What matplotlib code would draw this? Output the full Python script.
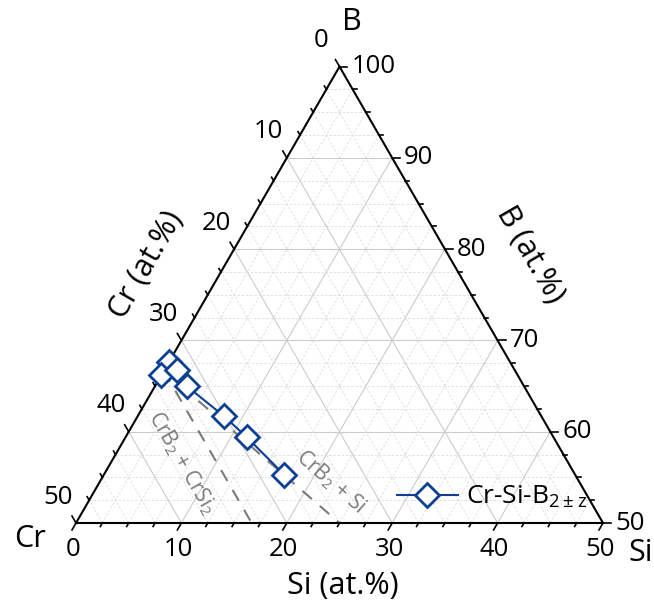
import numpy as np
import matplotlib.pyplot as plt

plt.rcParams["font.family"] = ["Open Sans", "DejaVu Sans"]
plt.rcParams["mathtext.default"] = "regular"

# measured compositions (at.%)
si_pct = [0.0, 0.0, 1.2, 3.0, 8.2, 11.5, 17.1]
b_pct = [67.6, 66.2, 66.8, 65.0, 61.7, 59.4, 55.3]
series_label = "Cr-Si-B$_{2\\pm z}$"

# tie lines starting at CrB2 (Si, B)
crb2 = (0.0, 200 / 3)
tie_crsi2_end = (50 / 3, 50.0)
tie_si_end = (25.0, 50.0)
tie_labels = ["CrB$_2$ + CrSi$_2$", "CrB$_2$ + Si"]

tick_values = np.arange(0, 50.01, 2.5)
major_values = [0, 10, 20, 30, 40, 50]

SQ3 = np.sqrt(3) / 2
PX = 10.54  # pixels per at.% along a triangle edge
W, H = 654, 605
X0, Y0 = 76, 523  # pixel position of the Cr corner

BLUE = "#0d3f94"
GREY = "#7a7a7a"


def to_xy(si, b):
    si = np.asarray(si, dtype=float)
    b = np.asarray(b, dtype=float)
    return si + 0.5 * (b - 50), (b - 50) * SQ3


def px(d):
    return d / PX


fig = plt.figure(figsize=(W / 100, H / 100), dpi=100)
ax = fig.add_axes([0, 0, 1, 1])
ax.set_xlim(-X0 / PX, (W - X0) / PX)
ax.set_ylim(-(H - Y0) / PX, Y0 / PX)
ax.axis("off")

# grid: constant B, Si and Cr lines
for v in tick_values:
    major = v % 10 == 0
    kw = dict(color="#cccccc", lw=0.8, ls="-") if major else dict(color="#dcdcdc", lw=0.6, ls=(0, (3, 2)))
    if 0 < v < 50:
        # constant B = 50 + v
        xa, ya = to_xy([0, 50 - v], [50 + v, 50 + v])
        ax.plot(xa, ya, zorder=1, **kw)
        # constant Si = v
        xa, ya = to_xy([v, v], [50, 100 - v])
        ax.plot(xa, ya, zorder=1, **kw)
        # constant Cr = v
        xa, ya = to_xy([50 - v, 0], [50, 100 - v])
        ax.plot(xa, ya, zorder=1, **kw)

# triangle outline
xa, ya = to_xy([0, 50, 0, 0], [50, 50, 100, 50])
ax.plot(xa, ya, color="black", lw=1.5, zorder=3, solid_joinstyle="miter")

# ticks and tick labels
tick_fs = 18.5
for v in tick_values:
    major = v in major_values
    length = px(8 if major else 4)
    # bottom: Si
    x, y = to_xy(v, 50)
    ax.plot([x, x - 0.5 * length], [y, y - SQ3 * length], color="black", lw=1.2, zorder=3)
    if major:
        ax.text(x - px(3), y - px(27), f"{v:g}", ha="center", va="center", fontsize=tick_fs)
    # left: Cr
    x, y = to_xy(0, 100 - v)
    ax.plot([x, x - 0.5 * length], [y, y + SQ3 * length], color="black", lw=1.2, zorder=3)
    if major:
        ax.text(x - px(18), y + px(26), f"{v:g}", ha="center", va="center", fontsize=tick_fs)
    # right: B
    x, y = to_xy(50 - v, 50 + v)
    ax.plot([x, x + length], [y, y], color="black", lw=1.2, zorder=3)
    if major:
        ax.text(x + px(12), y, f"{50 + v:g}", ha="left", va="center", fontsize=tick_fs)

# tie lines
for end in (tie_crsi2_end, tie_si_end):
    xa, ya = to_xy([crb2[0], end[0]], [crb2[1], end[1]])
    ax.plot(xa, ya, color=GREY, lw=1.5, ls=(0, (6, 5)), zorder=2)


def fig_text(x, y, s, **kw):
    fig.text(x / W, 1 - y / H, s, ha="center", va="center", **kw)


fig_text(182, 463, tie_labels[0], rotation=-60, color=GREY, fontsize=15, rotation_mode="anchor")
fig_text(331, 482, tie_labels[1], rotation=-41, color=GREY, fontsize=15, rotation_mode="anchor")

# data
xd, yd = to_xy(si_pct, b_pct)
ax.plot(xd, yd, color=BLUE, lw=1.5, marker="D", ms=12.5, mfc="white", mec=BLUE,
        mew=2, zorder=4, label=series_label)

ax.legend(loc="center left", bbox_to_anchor=(397 / W, 1 - 497 / H), bbox_transform=fig.transFigure,
          frameon=False, fontsize=19, borderpad=0, borderaxespad=0, handlelength=2.3,
          handletextpad=0.3)

# axis titles and corner labels
fig_text(343, 586, "Si (at.%)", fontsize=22)
fig_text(146, 265, "Cr (at.%)", fontsize=22, rotation=60, rotation_mode="anchor")
fig_text(530, 255, "B (at.%)", fontsize=22, rotation=-60, rotation_mode="anchor")
fig_text(352, 22, "B", fontsize=22)
fig_text(30, 539, "Cr", fontsize=22)
fig_text(641, 553, "Si", fontsize=22)

fig.savefig("out.png", dpi=100)
